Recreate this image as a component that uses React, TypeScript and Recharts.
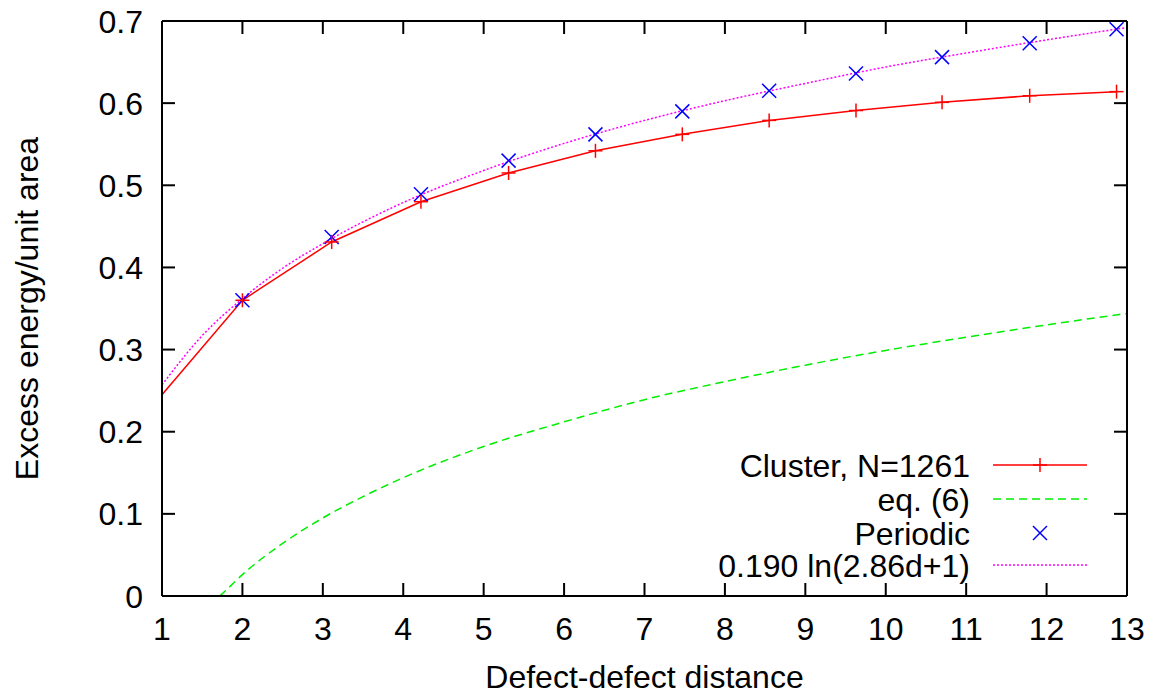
import { ComposedChart, Legend, Line, Scatter, XAxis, YAxis, Label } from 'recharts';

const FONT = '"Liberation Sans", Arial, Helvetica, sans-serif';
const FS = 32;

// values
const clusterD = [1, 2.0, 3.11, 4.22, 5.31, 6.39, 7.47, 8.55, 9.63, 10.7, 11.79, 12.87];
const clusterE = [0.245, 0.36, 0.431, 0.48, 0.515, 0.542, 0.562, 0.579, 0.591, 0.601, 0.609, 0.614];

const periodicD = [2.0, 3.11, 4.22, 5.31, 6.39, 7.47, 8.55, 9.63, 10.7, 11.79, 12.87];
const periodicE = [0.36, 0.437, 0.489, 0.53, 0.562, 0.59, 0.615, 0.636, 0.656, 0.673, 0.69];

const fitD = [1, 1.5, 2, 2.5, 3, 4, 5, 6, 7, 8, 9, 10, 11, 12, 13];
const fitE = [0.257, 0.317, 0.362, 0.399, 0.429, 0.479, 0.518, 0.551, 0.579, 0.603, 0.624, 0.644, 0.661, 0.677, 0.692];

const eq6D = [1.72, 1.85, 2, 2.5, 3, 3.5, 4, 5, 6, 7, 8, 9, 10, 11, 12, 13];
const eq6E = [0, 0.012, 0.026, 0.064, 0.095, 0.121, 0.144, 0.182, 0.212, 0.239, 0.261, 0.281, 0.299, 0.315, 0.33, 0.344];

const xTicks = [1, 2, 3, 4, 5, 6, 7, 8, 9, 10, 11, 12, 13];
const yTicks = [0, 0.1, 0.2, 0.3, 0.4, 0.5, 0.6, 0.7];

const legendLabels = ['Cluster, N=1261', 'eq. (6)', 'Periodic', '0.190 ln(2.86d+1)'];

const toRows = (ds: number[], es: number[]) => ds.map((d, i) => ({ d, e: es[i] }));
const clusterData = toRows(clusterD, clusterE);
const periodicData = toRows(periodicD, periodicE);
const fitData = toRows(fitD, fitE);
const eq6Data = toRows(eq6D, eq6E);

const RED = '#ff0000';
const GREEN = '#00ee00';
const BLUE = '#0000ff';
const MAGENTA = '#ff00ff';

function Plus({ cx, cy }: { cx: number; cy: number }) {
  return (
    <g stroke={RED} strokeWidth={1.5}>
      <line x1={cx - 7} y1={cy} x2={cx + 7} y2={cy} />
      <line x1={cx} y1={cy - 7} x2={cx} y2={cy + 7} />
    </g>
  );
}

function Cross({ cx, cy }: { cx: number; cy: number }) {
  return (
    <g stroke={BLUE} strokeWidth={1.5}>
      <line x1={cx - 7} y1={cy - 7} x2={cx + 7} y2={cy + 7} />
      <line x1={cx - 7} y1={cy + 7} x2={cx + 7} y2={cy - 7} />
    </g>
  );
}

const noTick = () => <g />;

function BottomTick({ x, y, payload }: any) {
  return (
    <text x={x} y={y + 57} textAnchor="middle" fontFamily={FONT} fontSize={FS} fill="#000">
      {payload.value}
    </text>
  );
}

function LeftTick({ x, y, payload }: any) {
  const v = payload.value as number;
  return (
    <text x={x - 32} y={y} dy="0.36em" textAnchor="end" fontFamily={FONT} fontSize={FS} fill="#000">
      {v === 0 ? '0' : v.toFixed(1)}
    </text>
  );
}

function LegendBox() {
  const rows = [25, 59, 93, 125];
  return (
    <svg width={400} height={170} style={{ display: 'block', overflow: 'visible' }}>
      {legendLabels.map((label, i) => (
        <text key={label} x={270} y={rows[i]} dy="0.36em" textAnchor="end" fontFamily={FONT} fontSize={FS} fill="#000">
          {label}
        </text>
      ))}
      <line x1={293} y1={rows[0]} x2={387} y2={rows[0]} stroke={RED} strokeWidth={1.5} />
      <Plus cx={340} cy={rows[0]} />
      <line x1={293} y1={rows[1]} x2={387} y2={rows[1]} stroke={GREEN} strokeWidth={1.5} strokeDasharray="8 5" />
      <Cross cx={340} cy={rows[2]} />
      <line x1={293} y1={rows[3]} x2={387} y2={rows[3]} stroke={MAGENTA} strokeWidth={1.5} strokeDasharray="2 2" />
    </svg>
  );
}

export default function App() {
  return (
    <div style={{ position: 'absolute', left: 0, top: 0, width: 1159, height: 696, background: '#fff' }}>
      <ComposedChart width={1159} height={696} margin={{ top: 20, right: 31, bottom: 0, left: 0 }}>
        <XAxis
          xAxisId="b"
          type="number"
          dataKey="d"
          domain={[1, 13]}
          ticks={xTicks}
          allowDataOverflow
          height={100}
          tickSize={-13}
          tickMargin={0}
          tick={BottomTick}
          axisLine={{ stroke: '#000', strokeWidth: 2 }}
          tickLine={{ stroke: '#000', strokeWidth: 2 }}
        >
          <Label value="Defect-defect distance" position="insideBottom" offset={8} fontFamily={FONT} fontSize={FS} fill="#000" />
        </XAxis>
        <XAxis
          xAxisId="t"
          orientation="top"
          type="number"
          dataKey="d"
          domain={[1, 13]}
          ticks={xTicks}
          allowDataOverflow
          height={1}
          tickSize={-13}
          tick={noTick}
          axisLine={{ stroke: '#000', strokeWidth: 2 }}
          tickLine={{ stroke: '#000', strokeWidth: 2 }}
        />
        <YAxis
          yAxisId="l"
          type="number"
          domain={[0, 0.7]}
          ticks={yTicks}
          allowDataOverflow
          width={162}
          tickSize={-13}
          tickMargin={0}
          tick={LeftTick}
          axisLine={{ stroke: '#000', strokeWidth: 2 }}
          tickLine={{ stroke: '#000', strokeWidth: 2 }}
        >
          <Label
            value="Excess energy/unit area"
            angle={-90}
            position="insideLeft"
            offset={27}
            fontFamily={FONT}
            fontSize={FS}
            fill="#000"
            style={{ textAnchor: 'middle' }}
          />
        </YAxis>
        <YAxis
          yAxisId="r"
          orientation="right"
          type="number"
          domain={[0, 0.7]}
          ticks={yTicks}
          allowDataOverflow
          width={1}
          tickSize={-13}
          tick={noTick}
          axisLine={{ stroke: '#000', strokeWidth: 2 }}
          tickLine={{ stroke: '#000', strokeWidth: 2 }}
        />
        <Legend layout="vertical" align="center" verticalAlign="middle" wrapperStyle={{ left: 700, top: 440, width: 400 }} content={() => <LegendBox />} />
        <Line
          xAxisId="b"
          yAxisId="l"
          data={eq6Data}
          dataKey="e"
          type="monotone"
          stroke={GREEN}
          strokeWidth={1.5}
          strokeDasharray="8 5"
          dot={false}
          isAnimationActive={false}
        />
        <Line
          xAxisId="b"
          yAxisId="l"
          data={fitData}
          dataKey="e"
          type="monotone"
          stroke={MAGENTA}
          strokeWidth={1.5}
          strokeDasharray="2 2"
          dot={false}
          isAnimationActive={false}
        />
        <Line
          xAxisId="b"
          yAxisId="l"
          data={clusterData}
          dataKey="e"
          type="linear"
          stroke={RED}
          strokeWidth={1.5}
          dot={(p: any) => (p.index === 0 ? <g key={p.index} /> : <Plus key={p.index} cx={p.cx} cy={p.cy} />)}
          isAnimationActive={false}
        />
        <Scatter
          xAxisId="b"
          yAxisId="l"
          data={periodicData}
          dataKey="e"
          shape={(p: any) => <Cross cx={p.cx} cy={p.cy} />}
          isAnimationActive={false}
        />
      </ComposedChart>
    </div>
  );
}
